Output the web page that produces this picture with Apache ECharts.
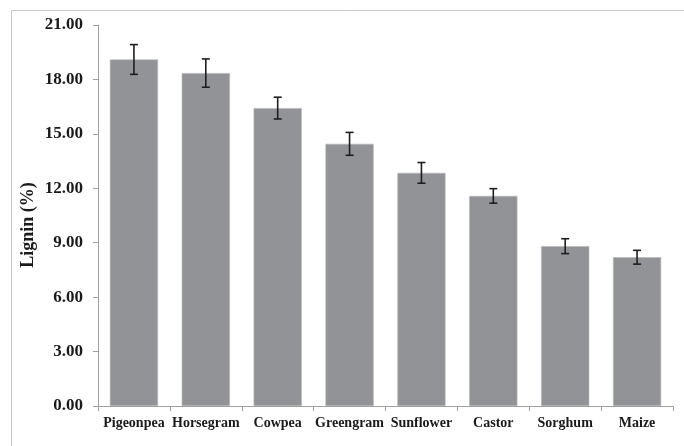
<!DOCTYPE html>
<html>
<head>
<meta charset="utf-8">
<script src="https://cdn.jsdelivr.net/npm/echarts@6/dist/echarts.min.js"></script>
<style>
  html, body { margin: 0; padding: 0; background: #fff; }
  #chart { width: 684px; height: 446px; }
</style>
</head>
<body>
<div id="chart"></div>
<script>
// Lignin content by crop residue, mean ± error
const crops = ['Pigeonpea', 'Horsegram', 'Cowpea', 'Greengram', 'Sunflower', 'Castor', 'Sorghum', 'Maize'];
const lignin = [19.10, 18.35, 16.42, 14.45, 12.85, 11.58, 8.81, 8.20];
const lignErr = [0.82, 0.78, 0.60, 0.63, 0.57, 0.40, 0.41, 0.38];
const yTicks = [0, 3, 6, 9, 12, 15, 18, 21];
const yTitle = 'Lignin (%)';

const serif = '"Liberation Serif", "Times New Roman", serif';
const chart = echarts.init(document.getElementById('chart'));

const errData = crops.map((c, i) => [i, lignin[i] - lignErr[i], lignin[i] + lignErr[i]]);

chart.setOption({
  animation: false,
  graphic: [
    {
      type: 'rect',
      shape: { x: 11.5, y: 10.5, width: 700, height: 460 },
      style: { fill: 'none', stroke: '#c8c8c8', lineWidth: 1 },
      silent: true
    },
    {
      type: 'text',
      x: 28, y: 225,
      rotation: Math.PI / 2,
      style: {
        text: yTitle, fill: '#1a1a1a', font: 'bold 18px ' + serif,
        align: 'center', verticalAlign: 'middle'
      },
      silent: true
    }
  ],
  grid: { left: 98, right: 11, top: 25, bottom: 40 },
  xAxis: {
    type: 'category',
    data: crops,
    axisLine: { lineStyle: { color: '#a0a0a0', width: 1 } },
    axisTick: { show: true, length: 5, lineStyle: { color: '#a0a0a0' } },
    axisLabel: { color: '#1a1a1a', fontFamily: serif, fontWeight: 'bold', fontSize: 14, margin: 10, interval: 0 }
  },
  yAxis: {
    type: 'value',
    min: yTicks[0],
    max: yTicks[yTicks.length - 1],
    interval: 3,
    axisLine: { show: true, lineStyle: { color: '#a0a0a0', width: 1 } },
    axisTick: { show: true, length: 5, lineStyle: { color: '#a0a0a0' } },
    splitLine: { show: false },
    axisLabel: {
      color: '#1a1a1a', fontFamily: serif, fontWeight: 'bold', fontSize: 17, margin: 15,
      formatter: v => v.toFixed(2)
    }
  },
  series: [
    {
      type: 'bar',
      data: lignin,
      barCategoryGap: '33%',
      itemStyle: { color: '#929396', borderColor: '#b4b5b8', borderWidth: 0.6 }
    },
    {
      type: 'custom',
      data: errData,
      z: 10,
      renderItem: (params, api) => {
        const lo = api.coord([api.value(0), api.value(1)]);
        const hi = api.coord([api.value(0), api.value(2)]);
        const cap = 4;
        const st = { stroke: '#1e1e1e', lineWidth: 1.6 };
        return {
          type: 'group',
          children: [
            { type: 'line', shape: { x1: hi[0], y1: hi[1], x2: lo[0], y2: lo[1] }, style: st },
            { type: 'line', shape: { x1: hi[0] - cap, y1: hi[1], x2: hi[0] + cap, y2: hi[1] }, style: st },
            { type: 'line', shape: { x1: lo[0] - cap, y1: lo[1], x2: lo[0] + cap, y2: lo[1] }, style: st }
          ]
        };
      }
    }
  ]
});
</script>
</body>
</html>
